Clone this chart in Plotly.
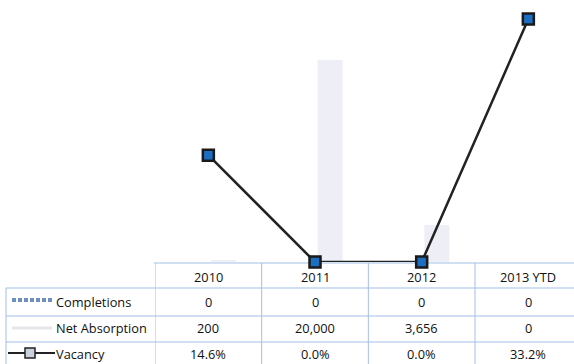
import plotly.graph_objects as go

# Data
categories = ["2010", "2011", "2012", "2013 YTD"]
completions = [0, 0, 0, 0]
net_absorption = [200, 20000, 3656, 0]
vacancy = [14.6, 0.0, 0.0, 33.2]
row_labels = ["Completions", "Net Absorption", "Vacancy"]

W, H = 574, 364
FONT = "Open Sans"
TXT = "#111111"
GRID = "#a3bfe6"
FS = 12.8


def py(p):
    """Pixel row -> paper y."""
    return (H - p) / H


def px(p):
    """Pixel column -> paper x."""
    return p / W


xs = list(range(len(categories)))

fig = go.Figure()

# Bars on the base axis (drawn underneath the vacancy line)
fig.add_trace(go.Bar(
    x=xs, y=completions, name="Completions",
    width=0.234, offset=-0.26,
    marker=dict(color="#5a7fb5", line=dict(width=0)),
    yaxis="y",
))
fig.add_trace(go.Bar(
    x=xs, y=net_absorption, name="Net Absorption",
    width=0.234, offset=0.025,
    marker=dict(color="#eeeef7", line=dict(width=0)),
    yaxis="y",
))
# Vacancy line on the overlaying axis
fig.add_trace(go.Scatter(
    x=xs, y=vacancy, name="Vacancy", mode="lines+markers",
    line=dict(color="#222222", width=2.5),
    marker=dict(symbol="square", size=11, color="#1b6ec2",
                line=dict(color="#1a1a1a", width=2.5)),
    cliponaxis=False,
    yaxis="y2",
))

# Plot area: category -0.5 sits at x=155px, 106.67px per category
x0_px, step = 155.0, 106.67
x_right = -0.5 + (W - x0_px) / step
base_px = 262.0
ydom = [py(base_px), 1.0]

fig.update_layout(
    width=W, height=H,
    margin=dict(l=0, r=0, t=0, b=0),
    paper_bgcolor="white", plot_bgcolor="rgba(0,0,0,0)",
    showlegend=False,
    barmode="overlay",
    xaxis=dict(domain=[px(x0_px), 1.0], range=[-0.5, x_right],
               showgrid=False, zeroline=False, showticklabels=False,
               showline=False, fixedrange=True),
    yaxis=dict(domain=ydom, range=[0, 20000 * base_px / 202.0],
               showgrid=False, zeroline=False, showticklabels=False,
               showline=False),
    yaxis2=dict(domain=ydom, range=[0, 33.2 * base_px / 243.0],
                overlaying="y", showgrid=False, zeroline=False,
                showticklabels=False, showline=False),
)

shapes = []
annotations = []

# Data table grid
row_tops = [263, 288, 316, 342]
for i, r in enumerate(row_tops):
    left = px(154) if i == 0 else px(6)
    shapes.append(dict(type="line", xref="paper", yref="paper",
                       x0=left, x1=1.0, y0=py(r), y1=py(r),
                       line=dict(color=GRID, width=1), layer="below"))
shapes.append(dict(type="line", xref="paper", yref="paper",
                   x0=px(6), x1=px(6), y0=py(288), y1=0,
                   line=dict(color=GRID, width=1), layer="below"))
for k in range(len(categories)):
    xv = k - 0.5
    shapes.append(dict(type="line", xref="x", yref="paper",
                       x0=xv, x1=xv, y0=py(263), y1=0,
                       line=dict(color=GRID, width=1), layer="below"))

# Header and cell values
header_y = 276.5
row_y = [301.5, 328, 354]
for k, c in enumerate(categories):
    annotations.append(dict(x=k, y=py(header_y), xref="x", yref="paper",
                            text=c, showarrow=False,
                            xanchor="center", yanchor="middle",
                            font=dict(family=FONT, size=FS, color=TXT)))
cells = [
    [f"{v:,}" for v in completions],
    [f"{v:,}" for v in net_absorption],
    [f"{v:.1f}%" for v in vacancy],
]
for r, row in enumerate(cells):
    for k, t in enumerate(row):
        annotations.append(dict(x=k, y=py(row_y[r]), xref="x", yref="paper",
                                text=t, showarrow=False,
                                xanchor="center", yanchor="middle",
                                font=dict(family=FONT, size=FS, color=TXT)))

# Row labels
for r, lab in enumerate(row_labels):
    annotations.append(dict(x=px(54), y=py(row_y[r]), xref="paper", yref="paper",
                            text=lab, showarrow=False,
                            xanchor="left", yanchor="middle",
                            font=dict(family=FONT, size=FS, color=TXT)))

# Legend keys in the label column
shapes.append(dict(type="line", xref="paper", yref="paper",
                   x0=px(12), x1=px(52), y0=py(300), y1=py(300),
                   line=dict(color="#6f8fbf", width=4, dash="4px,2px")))
shapes.append(dict(type="line", xref="paper", yref="paper",
                   x0=px(12), x1=px(52), y0=py(328), y1=py(328),
                   line=dict(color="#e6e6ea", width=3)))
shapes.append(dict(type="line", xref="paper", yref="paper",
                   x0=px(8), x1=px(55), y0=py(353), y1=py(353),
                   line=dict(color="#222222", width=2)))
shapes.append(dict(type="rect", xref="paper", yref="paper",
                   x0=px(25), x1=px(35), y0=py(358), y1=py(348),
                   fillcolor="#c9d2de", line=dict(color="#222222", width=1.5)))

fig.update_layout(shapes=shapes, annotations=annotations)

fig.write_html("out.html")
